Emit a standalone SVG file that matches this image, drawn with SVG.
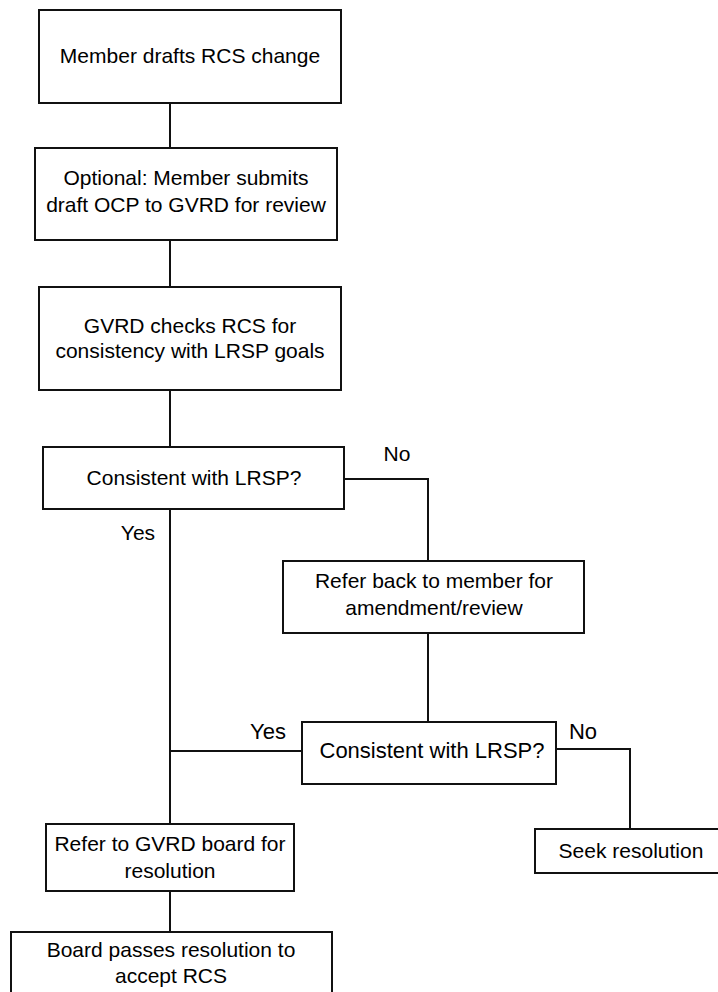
<svg xmlns="http://www.w3.org/2000/svg" width="718" height="992" viewBox="0 0 718 992">
<style>
.box{fill:#fff;stroke:#111;stroke-width:2}
.ln{fill:none;stroke:#111;stroke-width:2}
text{font-family:"Liberation Sans",Arial,sans-serif;font-size:21px;fill:#000;text-anchor:middle}
.big{font-size:22px}
</style>
<rect width="718" height="992" fill="#fff"/>
<g id="connectors">
<path class="ln" d="M170,103 V148"/>
<path class="ln" d="M170,240 V287"/>
<path class="ln" d="M170,390 V447"/>
<path class="ln" d="M170,509 V824"/>
<path class="ln" d="M344,479 H428 V561"/>
<path class="ln" d="M428,633 V722"/>
<path class="ln" d="M302,751 H170"/>
<path class="ln" d="M556,749 H630 V829"/>
<path class="ln" d="M170,891 V932"/>
<text x="397" y="461">No</text>
<text x="138" y="540">Yes</text>
<text x="268" y="739" class="big">Yes</text>
<text x="583" y="739" class="big">No</text>
</g>
<g id="n1"><rect class="box" x="39" y="10" width="302" height="93"/><text x="190" y="63">Member drafts RCS change</text></g>
<g id="n2"><rect class="box" x="35" y="148" width="302" height="92"/><text x="186" y="185">Optional: Member submits</text><text x="186" y="212">draft OCP to GVRD for review</text></g>
<g id="n3"><rect class="box" x="39" y="287" width="302" height="103"/><text x="190" y="333">GVRD checks RCS for</text><text x="190" y="358">consistency with LRSP goals</text></g>
<g id="n4"><rect class="box" x="43" y="447" width="301" height="62"/><text x="194" y="485">Consistent with LRSP?</text></g>
<g id="n5"><rect class="box" x="283" y="561" width="301" height="72"/><text x="434" y="588">Refer back to member for</text><text x="434" y="615">amendment/review</text></g>
<g id="n6"><rect class="box" x="302" y="722" width="254" height="62"/><text x="432" y="758" class="big">Consistent with LRSP?</text></g>
<g id="n7"><rect class="box" x="535" y="829" width="193" height="44"/><text x="631" y="858">Seek resolution</text></g>
<g id="n8"><rect class="box" x="46" y="824" width="248" height="67"/><text x="170" y="851">Refer to GVRD board for</text><text x="170" y="878">resolution</text></g>
<g id="n9"><rect class="box" x="11" y="932" width="321" height="80"/><text x="171" y="957">Board passes resolution to</text><text x="171" y="983">accept RCS</text></g>
</svg>
